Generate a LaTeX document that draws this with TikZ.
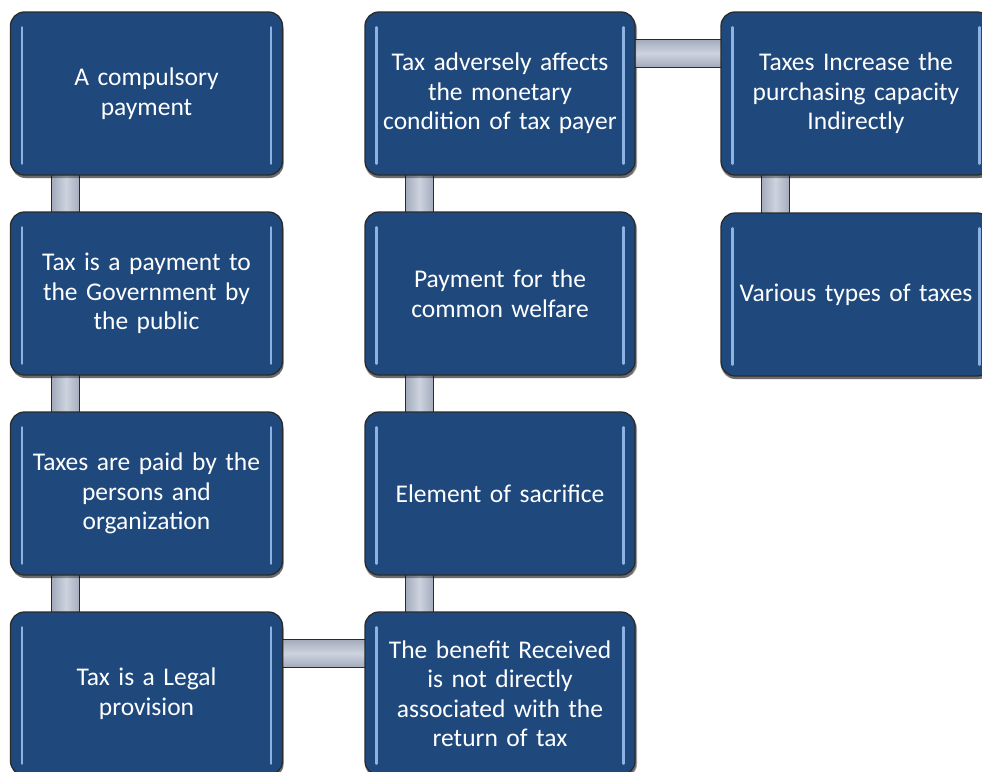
\documentclass[tikz,border=0pt]{standalone}
\usepackage{fontspec}
\setmainfont{Carlito}
\usetikzlibrary{shadows,calc}
\definecolor{boxblue}{HTML}{1F497D}
\definecolor{boxedge}{HTML}{2B2B2B}
\definecolor{hilite}{HTML}{8DB3E2}
\definecolor{connmid}{HTML}{CDD3DE}
\definecolor{connside}{HTML}{A3ABBC}
\tikzset{
  x=1pt, y=-1pt,
  tbox/.style={rectangle, rounded corners=14pt, fill=boxblue, draw=boxedge, line width=1.3pt,
    minimum width=272pt, minimum height=163pt, text=white, align=center, text width=262pt,
    inner sep=0pt, font=\fontsize{25.5}{29.5}\selectfont,
    drop shadow={shadow xshift=1pt, shadow yshift=-3pt, opacity=0.35, fill=black}},
  vconn/.style={left color=connside, right color=connside, middle color=connmid, draw=none},
  hconn/.style={top color=connside, bottom color=connside, middle color=connmid, draw=none},
  connedge/.style={draw=boxedge, line width=1.2pt},
  hl/.style={draw=hilite, line width=2.6pt, line cap=round},
}
\newcommand{\boxhl}[1]{%
  \draw[hl] ($(#1.north west)+(12,16)$) -- ($(#1.south west)+(12,-12)$);
  \draw[hl] ($(#1.north east)+(-12,16)$) -- ($(#1.south east)+(-12,-12)$);}
\begin{document}
\begin{tikzpicture}
\useasboundingbox (0,0) rectangle (982,771);
\fill[white] (0,0) rectangle (982,771);
% node positions
\path
  (146.5,93.5) coordinate (p11) (146.5,293.5) coordinate (p12) (146.5,493.5) coordinate (p13) (146.5,693.5) coordinate (p14)
  (500,93.5) coordinate (p21) (500,293.5) coordinate (p22) (500,493.5) coordinate (p23) (500,693.5) coordinate (p24)
  (856,93.5) coordinate (p31) (856,294.5) coordinate (p32);
% invisible placeholders for connector geometry
\begin{scope}
\node[tbox, draw=none, fill=none, drop shadow={opacity=0}] (a) at (p11) {};
\node[tbox, draw=none, fill=none, drop shadow={opacity=0}] (b) at (p12) {};
\node[tbox, draw=none, fill=none, drop shadow={opacity=0}] (c) at (p13) {};
\node[tbox, draw=none, fill=none, drop shadow={opacity=0}] (d) at (p14) {};
\node[tbox, draw=none, fill=none, drop shadow={opacity=0}] (e) at (p21) {};
\node[tbox, draw=none, fill=none, drop shadow={opacity=0}] (f) at (p22) {};
\node[tbox, draw=none, fill=none, drop shadow={opacity=0}] (g) at (p23) {};
\node[tbox, draw=none, fill=none, drop shadow={opacity=0}] (h) at (p24) {};
\node[tbox, draw=none, fill=none, drop shadow={opacity=0}] (i) at (p31) {};
\node[tbox, draw=none, fill=none, drop shadow={opacity=0}] (j) at (p32) {};
\end{scope}
\foreach \u/\v in {a/b, b/c, c/d, e/f, f/g, g/h, i/j}{
  \shade[vconn] ($(\u.south west)+(42,-4)$) rectangle ($(\v.north west)+(70,4)$);
  \draw[connedge] ($(\u.south west)+(42,-4)$) -- ($(\v.north west)+(42,4)$);
  \draw[connedge] ($(\u.south west)+(70,-4)$) -- ($(\v.north west)+(70,4)$);
}
\foreach \u/\v in {d/h, e/i}{
  \shade[hconn] ($(\u.north east)+(-4,28)$) rectangle ($(\v.north west)+(4,56)$);
  \draw[connedge] ($(\u.north east)+(-4,28)$) -- ($(\v.north west)+(4,28)$);
  \draw[connedge] ($(\u.north east)+(-4,56)$) -- ($(\v.north west)+(4,56)$);
}
% boxes
\node[tbox] (A) at (p11) {A compulsory\\payment};
\node[tbox] (B) at (p12) {Tax is a payment to\\the Government by\\the public};
\node[tbox] (C) at (p13) {Taxes are paid by the\\persons and\\organization};
\node[tbox] (D) at (p14) {Tax is a Legal\\provision};
\node[tbox, minimum width=270pt] (E) at (p21) {Tax adversely affects\\the monetary\\condition of tax payer};
\node[tbox, minimum width=270pt] (F) at (p22) {Payment for the\\common welfare};
\node[tbox, minimum width=270pt] (G) at (p23) {Element of sacrifice};
\node[tbox, minimum width=270pt] (H) at (p24) {The benefit Received\\is not directly\\associated with the\\return of tax};
\node[tbox, minimum width=270pt] (I) at (p31) {Taxes Increase the\\purchasing capacity\\Indirectly};
\node[tbox, minimum width=270pt] (J) at (p32) {Various types of taxes};
\foreach \n in {A,B,C,D,E,F,G,H,I,J}{\boxhl{\n}}
\end{tikzpicture}
\end{document}
